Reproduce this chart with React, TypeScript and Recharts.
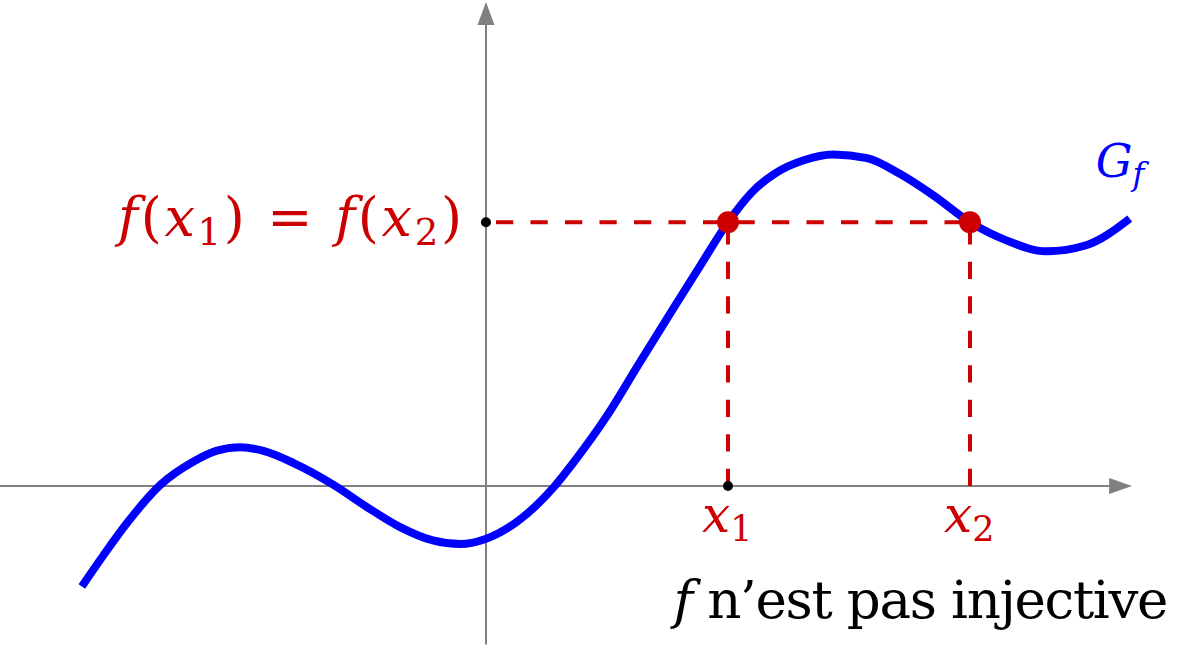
import React from 'react';
import { ComposedChart, Line, XAxis, YAxis, ReferenceDot } from 'recharts';

// Curve G_f (1 unit = x1 / 2)
const curveX = [-3.34, -3.16, -2.97, -2.69, -2.42, -2.23, -2.03, -1.84, -1.59, -1.26, -0.99, -0.71, -0.44, -0.21, -0.01, 0.25, 0.56, 0.72, 1.0, 1.27, 1.55, 1.77, 2.0, 2.2, 2.4, 2.62, 2.87, 3.15, 3.42, 3.7, 4.0, 4.3, 4.63, 4.96, 5.32];
const curveY = [-0.83, -0.57, -0.31, 0.01, 0.2, 0.29, 0.32, 0.29, 0.19, 0.01, -0.17, -0.34, -0.45, -0.48, -0.44, -0.3, -0.01, 0.19, 0.58, 1.02, 1.47, 1.82, 2.18, 2.43, 2.59, 2.69, 2.74, 2.71, 2.58, 2.4, 2.18, 2.03, 1.94, 1.99, 2.21];

const X1 = 2;
const X2 = 4;
const F_LEVEL = 2.18;

const X_DOMAIN = [-4.0165, 5.8017];
const Y_DOMAIN = [-1.3636, 4.0165];

// axis extents: [start, arrow base, arrow tip]
const X_AXIS = [-4.0165, 5.15, 5.34];
const Y_AXIS = [-1.31, 3.82, 4.0];

// label anchors
const GF_ANCHOR = { x: 5.04, y: 2.55 };
const NOTE_ANCHOR = { x: 5.64, y: -1.09 };

const RED = '#cc0000';
const BLUE = '#0000ff';
const GRAY = '#808080';
const FONT = '"DejaVu Serif", serif';

const curveData = curveX.map((x, i) => ({ x, y: curveY[i] }));
const xAxisData = [{ x: X_AXIS[0], y: 0 }, { x: X_AXIS[1], y: 0 }];
const yAxisData = [{ x: 0, y: Y_AXIS[0] }, { x: 0, y: Y_AXIS[1] }];
const hDash = [{ x: 0, y: F_LEVEL }, { x: X2, y: F_LEVEL }];
const v1Dash = [{ x: X1, y: 0 }, { x: X1, y: F_LEVEL }];
const v2Dash = [{ x: X2, y: 0 }, { x: X2, y: F_LEVEL }];

const ArrowRight = (p: any) => (
  <polygon points={`${p.cx},${p.cy} ${p.cx - 23},${p.cy - 8} ${p.cx - 23},${p.cy + 8}`} fill={GRAY} />
);
const ArrowUp = (p: any) => (
  <polygon points={`${p.cx},${p.cy} ${p.cx - 8.5},${p.cy + 23} ${p.cx + 8.5},${p.cy + 23}`} fill={GRAY} />
);

const txt = { fontFamily: FONT };

const LevelLabel = (p: any) => (
  <g>
    <circle cx={p.cx} cy={p.cy} r={5} fill="#000" />
    <text x={p.cx - 368} y={p.cy + 14} style={txt} fontSize={54} fill={RED} textLength={344} lengthAdjust="spacing">
      <tspan fontStyle="italic">f</tspan>
      <tspan>(</tspan>
      <tspan fontStyle="italic">x</tspan>
      <tspan fontSize={37} dy={9}>1</tspan>
      <tspan dy={-9}>) = </tspan>
      <tspan fontStyle="italic">f</tspan>
      <tspan>(</tspan>
      <tspan fontStyle="italic">x</tspan>
      <tspan fontSize={37} dy={9}>2</tspan>
      <tspan dy={-9}>)</tspan>
    </text>
  </g>
);

const XLabel = (sub: string, dot: boolean) => (p: any) => (
  <g>
    {dot ? <circle cx={p.cx} cy={p.cy} r={5} fill="#000" /> : null}
    <text x={p.cx - 26} y={p.cy + 46} style={txt} fontSize={50} fill={RED}>
      <tspan fontStyle="italic">x</tspan>
      <tspan fontSize={35} dy={9}>{sub}</tspan>
    </text>
  </g>
);

const GfLabel = (p: any) => (
  <text x={p.cx} y={p.cy} style={txt} fontSize={46} fill={BLUE} fontStyle="italic">
    <tspan>G</tspan>
    <tspan fontSize={32} dy={8}>f</tspan>
  </text>
);

const NoteLabel = (p: any) => (
  <text x={p.cx - 495} y={p.cy} style={txt} fontSize={53} fill="#000" textLength={495} lengthAdjust="spacing">
    <tspan fontStyle="italic">f</tspan>
    <tspan>{'\u00a0n\u2019est pas injective'}</tspan>
  </text>
);

const RedDot = (p: any) => <circle cx={p.cx} cy={p.cy} r={11} fill={RED} />;

export default function App() {
  return (
    <div style={{ position: 'absolute', left: 0, top: 0, background: '#fff' }}>
      <ComposedChart width={1188} height={651} margin={{ top: 0, right: 0, bottom: 0, left: 0 }}>
        <XAxis type="number" dataKey="x" domain={X_DOMAIN} allowDataOverflow hide />
        <YAxis type="number" dataKey="y" domain={Y_DOMAIN} allowDataOverflow hide />
        <Line data={xAxisData} dataKey="y" type="linear" stroke={GRAY} strokeWidth={2} dot={false} activeDot={false} isAnimationActive={false} />
        <Line data={yAxisData} dataKey="y" type="linear" stroke={GRAY} strokeWidth={2} dot={false} activeDot={false} isAnimationActive={false} />
        <Line data={curveData} dataKey="y" type="monotone" stroke={BLUE} strokeWidth={8} strokeLinejoin="round" dot={false} activeDot={false} isAnimationActive={false} />
        <Line data={hDash} dataKey="y" type="linear" stroke={RED} strokeWidth={4} strokeDasharray="17.25 17.25" strokeDashoffset={24.5} dot={false} activeDot={false} isAnimationActive={false} />
        <Line data={v1Dash} dataKey="y" type="linear" stroke={RED} strokeWidth={4} strokeDasharray="17.25 17.25" dot={false} activeDot={false} isAnimationActive={false} />
        <Line data={v2Dash} dataKey="y" type="linear" stroke={RED} strokeWidth={4} strokeDasharray="17.25 17.25" dot={false} activeDot={false} isAnimationActive={false} />
        <ReferenceDot x={X_AXIS[2]} y={0} shape={ArrowRight} />
        <ReferenceDot x={0} y={Y_AXIS[2]} shape={ArrowUp} />
        <ReferenceDot x={0} y={F_LEVEL} shape={LevelLabel} />
        <ReferenceDot x={X1} y={0} shape={XLabel('1', true)} />
        <ReferenceDot x={X2} y={0} shape={XLabel('2', false)} />
        <ReferenceDot x={X1} y={F_LEVEL} shape={RedDot} />
        <ReferenceDot x={X2} y={F_LEVEL} shape={RedDot} />
        <ReferenceDot x={GF_ANCHOR.x} y={GF_ANCHOR.y} shape={GfLabel} />
        <ReferenceDot x={NOTE_ANCHOR.x} y={NOTE_ANCHOR.y} shape={NoteLabel} />
      </ComposedChart>
    </div>
  );
}
